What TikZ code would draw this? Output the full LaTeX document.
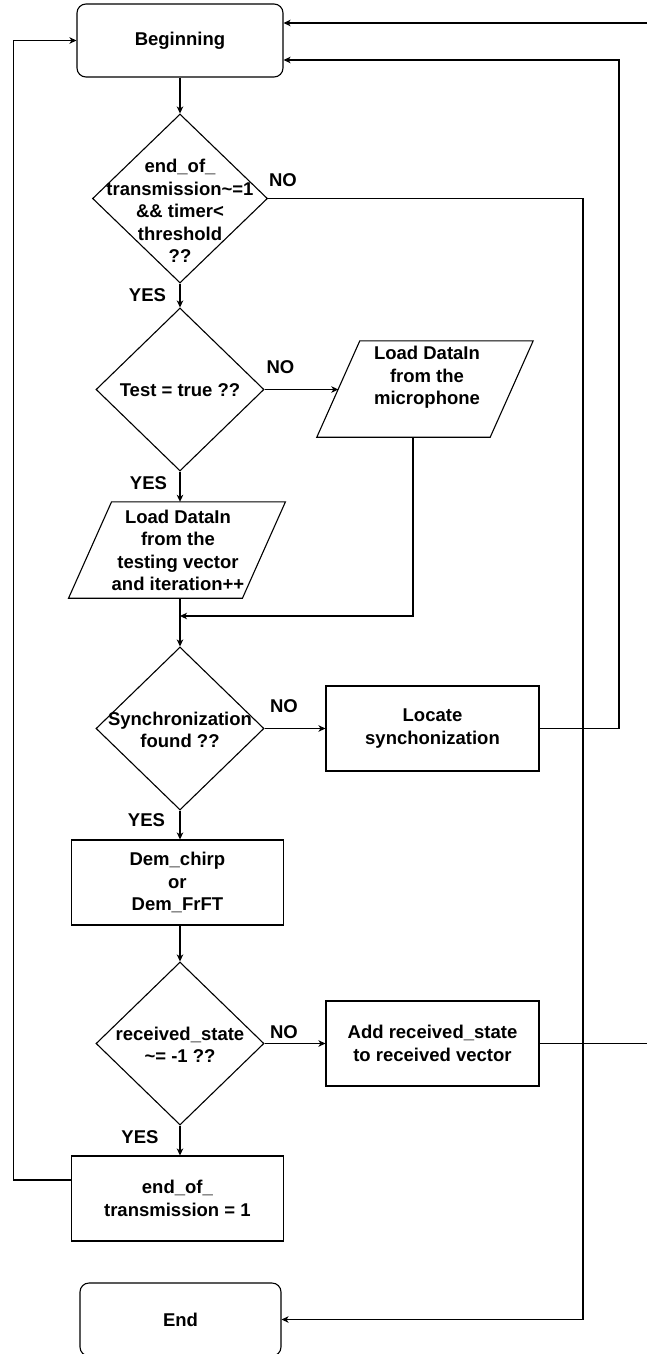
\documentclass[tikz,border=0pt]{standalone}
\usepackage{fontspec}
\setmainfont{Liberation Sans}
\usetikzlibrary{shapes.geometric,arrows.meta,calc}

\tikzset{
  every picture/.style={x=1pt,y=-1pt},
  line/.style={draw=black,line width=1.1pt},
  arr/.style={line,-{Stealth[length=7pt,width=6.5pt,inset=2pt]}},
  box/.style={line,rectangle,inner sep=0pt},
  rbox/.style={box,rounded corners=9pt},
  dia/.style={line,diamond,inner sep=0pt},
  frame/.style={rectangle,inner sep=0pt},
  txt/.style={font=\fontsize{18.5}{22.5}\selectfont\bfseries,align=center,inner sep=0pt},
}

\begin{document}
\begin{tikzpicture}
\clip (0,0) rectangle (647,1354);
\fill[white] (0,0) rectangle (647,1354);

% process steps
\node[rbox,minimum width=206pt,minimum height=73pt,txt] (begin) at (180,40.5) {Beginning};
\node[dia,minimum width=175pt,minimum height=169pt] (d1) at (180,198.5) {};
\node[txt] (d1t) at (180,211) {end\_of\_\\transmission\textasciitilde=1\\\&\& timer<\\threshold\\??};

\node[dia,minimum width=168pt,minimum height=163pt] (d2) at (180,389.5) {};
\node[txt] (d2t) at (180,390) {Test = true ??};

% input parallelograms (frame node + slanted outline)
\node[frame,minimum width=173pt,minimum height=96pt] (mic) at (425,389) {};
\draw[line] ([xshift=21.5pt]mic.north west) -- ([xshift=21.5pt]mic.north east)
  -- ([xshift=-21.5pt]mic.south east) -- ([xshift=-21.5pt]mic.south west) -- cycle;
\node[txt] (mict) at (427,377.5) {Load DataIn\\from the\\microphone};

\node[frame,minimum width=173.5pt,minimum height=96pt] (vec) at (177,550) {};
\draw[line] ([xshift=21.5pt]vec.north west) -- ([xshift=21.5pt]vec.north east)
  -- ([xshift=-21.5pt]vec.south east) -- ([xshift=-21.5pt]vec.south west) -- cycle;
\node[txt] (vect) at (178,550.5) {Load DataIn\\from the\\testing vector\\and iteration++};

\node[dia,minimum width=168pt,minimum height=163pt] (d3) at (180,728.5) {};
\node[txt] (d3t) at (180,730) {Synchronization\\found ??};
\node[box,minimum width=213pt,minimum height=85pt,txt] (loc) at (432.5,728.5) {Locate\\synchonization};

\node[box,minimum width=212pt,minimum height=85pt,txt] (dem) at (177.4,882.5) {Dem\_chirp\\or\\Dem\_FrFT};

\node[dia,minimum width=168pt,minimum height=163pt] (d4) at (180,1043.5) {};
\node[txt] (d4t) at (180,1045) {received\_state\\\textasciitilde= -1 ??};
\node[box,minimum width=213pt,minimum height=85pt,txt] (add) at (432.5,1043.5) {Add received\_state\\to received vector};

\node[box,minimum width=212pt,minimum height=85pt,txt] (eot) at (177.4,1198.5) {end\_of\_\\transmission = 1};
\node[rbox,minimum width=201pt,minimum height=73pt,txt] (end) at (180.5,1319.5) {End};

% branch labels
\node[txt] (no1) at (283,180) {NO};
\node[txt] (yes1) at (147.5,295) {YES};
\node[txt] (no2) at (280.5,367) {NO};
\node[txt] (yes2) at (148.5,483) {YES};
\node[txt] (no3) at (284,706) {NO};
\node[txt] (yes3) at (146.5,820) {YES};
\node[txt] (no4) at (284,1032) {NO};
\node[txt] (yes4) at (140,1137) {YES};

% routing points
\coordinate (join) at (180,616);
\coordinate (lft) at (13.5,600);
\coordinate (rtA) at (619,400);
\coordinate (rtB) at (583,700);
\coordinate (offtop) at (647,23);
\coordinate (offadd) at (647,1043.5);

% main flow
\draw[arr] (begin.south -| d1.north) -- (d1.north);
\draw[arr] (d1.south) -- (d2.north);
\draw[arr] (d2.east) -- (d2.east -| mic.west);
\draw[arr] (d2.south) -- (d2.south |- vec.north);
\draw[arr] ([xshift=-12pt]mic.south) |- (join);
\draw[arr] (vec.south -| d3.north) -- (d3.north);
\draw[arr] (d3.east) -- (loc.west);
\draw[arr] (d3.south) -- (d3.south |- dem.north);
\draw[arr] (dem.south -| d4.north) -- (d4.north);
\draw[arr] (d4.east) -- (add.west);
\draw[arr] (d4.south) -- (d4.south |- eot.north);

% loops back
\draw[arr] ([yshift=18.5pt]eot.west) -| (lft) |- (begin.west);
\draw[arr] (loc.east) -| (rtA) |- ([yshift=-19.5pt]begin.east);
\draw[arr] (offtop) -- (offtop -| begin.east);
\draw[line] (add.east) -- (offadd);
\draw[arr] (d1.east) -| (rtB) |- (end.east);
\end{tikzpicture}
\end{document}
